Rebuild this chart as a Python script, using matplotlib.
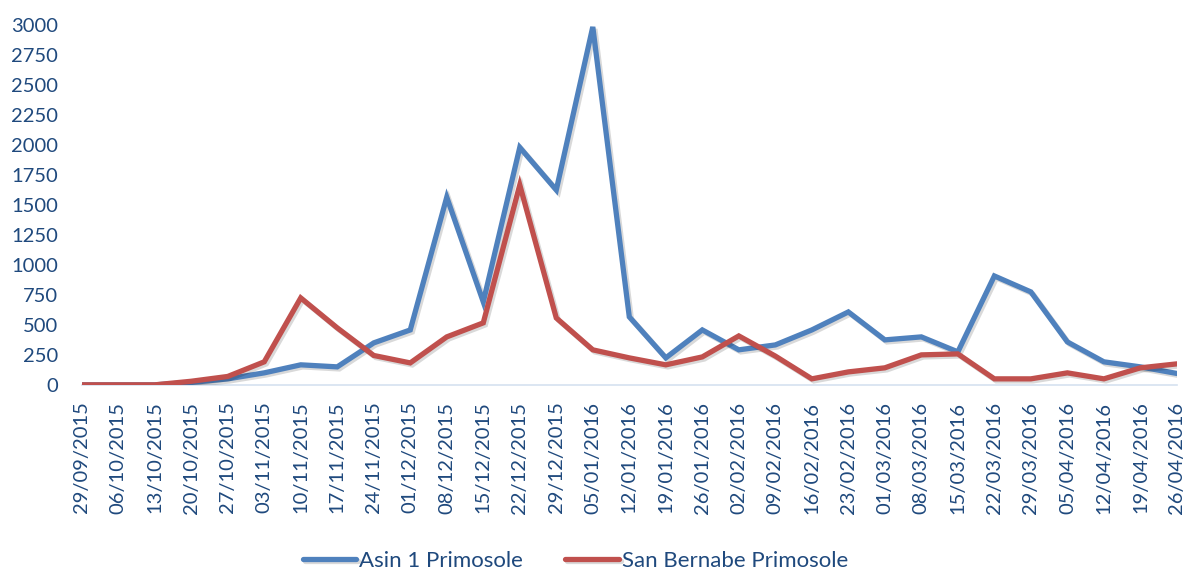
import matplotlib.pyplot as plt
import matplotlib.patheffects as pe

dates = ["29/09/2015", "06/10/2015", "13/10/2015", "20/10/2015", "27/10/2015",
         "03/11/2015", "10/11/2015", "17/11/2015", "24/11/2015", "01/12/2015",
         "08/12/2015", "15/12/2015", "22/12/2015", "29/12/2015", "05/01/2016",
         "12/01/2016", "19/01/2016", "26/01/2016", "02/02/2016", "09/02/2016",
         "16/02/2016", "23/02/2016", "01/03/2016", "08/03/2016", "15/03/2016",
         "22/03/2016", "29/03/2016", "05/04/2016", "12/04/2016", "19/04/2016",
         "26/04/2016"]

asin = [0, 0, 0, 20, 50, 100, 167, 150, 350, 458,
        1565, 692, 1980, 1625, 2985, 567, 225, 458, 292, 333,
        458, 608, 375, 400, 275, 908, 775, 358, 192, 150, 95]

san_bernabe = [0, 0, 0, 30, 70, 192, 725, 475, 245, 183,
               400, 517, 1667, 558, 292, 225, 167, 233, 408, 240,
               50, 108, 142, 250, 258, 50, 50, 100, 50, 142, 175]

series_names = ["Asin 1 Primosole", "San Bernabe Primosole"]
colors = ["#4F81BD", "#C0504D"]
text_color = "#1F497D"

plt.rcParams['font.family'] = ['Lato', 'DejaVu Sans']

fig = plt.figure(figsize=(11.84, 5.71), dpi=100)
ax = fig.add_axes([0.069, 0.326, 0.925, 0.630])

x = list(range(len(dates)))
# faint drop shadow like the Excel original
shadow = [pe.SimpleLineShadow(offset=(1.5, -1.5), alpha=0.15), pe.Normal()]
for vals, name, col in zip([asin, san_bernabe], series_names, colors):
    ax.plot(x, vals, color=col, lw=3.8, label=name,
            solid_joinstyle='miter', solid_capstyle='round', path_effects=shadow)

ax.set_xlim(0, len(dates) - 1)
ax.set_ylim(0, 3000)
ax.set_yticks(range(0, 3001, 250))
ax.set_xticks(x)
ax.set_xticklabels(dates, rotation=90)
ax.tick_params(axis='both', length=0, labelsize=14.5, labelcolor=text_color)
ax.tick_params(axis='x', pad=12)
ax.tick_params(axis='y', pad=17)

for s in ['top', 'right', 'left']:
    ax.spines[s].set_visible(False)
ax.spines['bottom'].set_color('#D6E2F0')
ax.spines['bottom'].set_linewidth(1.2)
ax.spines['bottom'].set_zorder(0)

handles, labels = ax.get_legend_handles_labels()
leg = fig.legend(handles, labels, loc='lower center', bbox_to_anchor=(0.486, -0.035),
                 ncol=2, frameon=False, fontsize=16, handlelength=2.4,
                 handletextpad=0.15, columnspacing=1.9)
for t in leg.get_texts():
    t.set_color(text_color)

fig.savefig("out.png", dpi=100)
